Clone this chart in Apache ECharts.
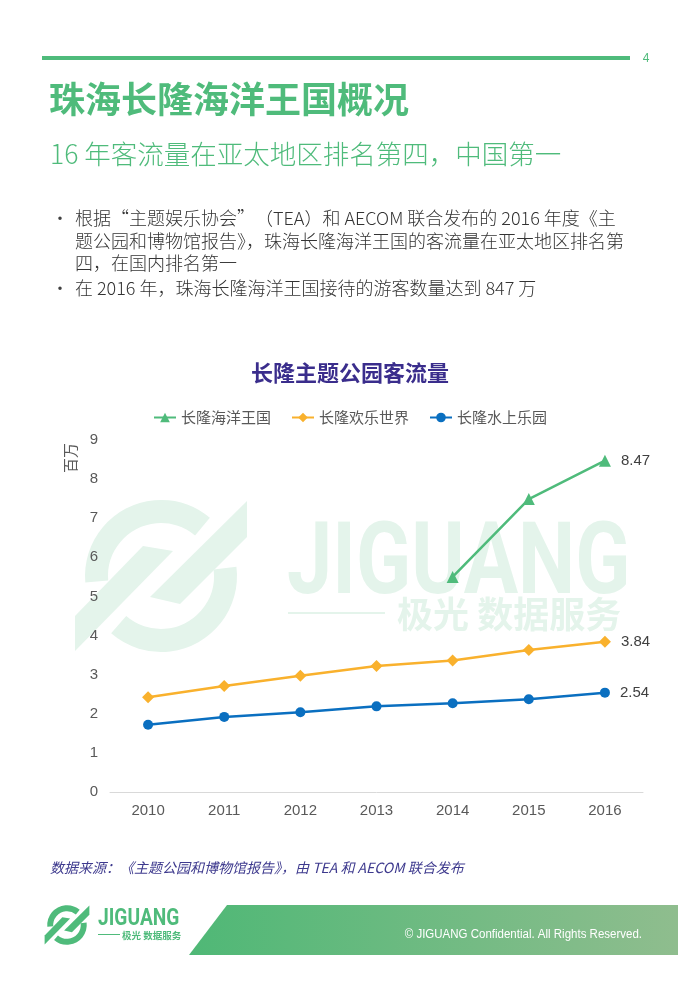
<!DOCTYPE html>
<html><head><meta charset="utf-8">
<script src="https://cdn.jsdelivr.net/npm/echarts@6/dist/echarts.min.js"></script>
<style>html,body{margin:0;padding:0;background:#fff}#c{width:700px;height:990px}</style>
</head><body><div id="c"></div>
<script>
const years = ['2010','2011','2012','2013','2014','2015','2016'];
const oceanKingdom = [null, null, null, null, 5.50, 7.49, 8.47];
const happyValley = [2.42, 2.71, 2.97, 3.22, 3.36, 3.63, 3.84];
const waterPark = [1.72, 1.92, 2.04, 2.19, 2.27, 2.37, 2.54];
const seriesNames = ['长隆海洋王国', '长隆欢乐世界', '长隆水上乐园'];
const yTicks = [0, 9, 1];

const GREEN = '#4fbb7b';
const CJK = '"Noto Sans CJK SC", sans-serif';
const LAT = '"Liberation Sans", "Noto Sans CJK SC", sans-serif';

function logo(x, y, s, color) {
  const d = Math.PI / 180;
  return {
    type: 'group', x: x, y: y, scaleX: s, scaleY: s, silent: true,
    children: [
      {type: 'sector', shape: {cx: 0, cy: 0, r0: 53, r: 76, startAngle: -185 * d, endAngle: -50 * d, clockwise: true}, style: {fill: color}},
      {type: 'sector', shape: {cx: 0, cy: 0, r0: 53, r: 76, startAngle: -7 * d, endAngle: 131 * d, clockwise: true}, style: {fill: color}},
      {type: 'polygon', shape: {points: [[-86, 40], [-18, -30], [12, -25], [-86, 75]]}, style: {fill: color}},
      {type: 'polygon', shape: {points: [[-11, 21], [86, -75], [86, -39], [19, 28]]}, style: {fill: color}}
    ]
  };
}

const chart = echarts.init(document.getElementById('c'), null, {renderer: 'canvas'});
const lblFmt = p => (p.dataIndex === years.length - 1 ? p.value.toFixed(2) : '');
const lbl = {show: true, position: 'right', distance: 10, formatter: lblFmt, color: '#404040', fontSize: 15, fontFamily: LAT};
const BODY = '300 18px ' + CJK;

chart.setOption({
  animation: false,
  backgroundColor: '#fff',
  graphic: [
    {type: 'rect', shape: {x: 42, y: 56, width: 588, height: 4}, style: {fill: GREEN}},
    {type: 'text', style: {text: '4', x: 646, y: 59, font: '12px ' + LAT, fill: GREEN, textAlign: 'center', textVerticalAlign: 'middle'}},
    {type: 'text', style: {text: '珠海长隆海洋王国概况', x: 49, y: 99, font: 'bold 36px ' + CJK, fill: GREEN, textVerticalAlign: 'middle'}},
    {type: 'text', style: {text: '16 年客流量在亚太地区排名第四，中国第一', x: 50, y: 154, font: '300 26.5px ' + CJK, fill: GREEN, textVerticalAlign: 'middle'}},
    {type: 'text', style: {text: '•', x: 52, y: 218, font: '16px ' + CJK, fill: '#404040', textVerticalAlign: 'middle'}},
    {type: 'text', style: {text: '根据“主题娱乐协会”（TEA）和 AECOM 联合发布的 2016 年度《主', x: 75, y: 218, font: BODY, fill: '#333333', textVerticalAlign: 'middle'}},
    {type: 'text', style: {text: '题公园和博物馆报告》，珠海长隆海洋王国的客流量在亚太地区排名第', x: 75, y: 241, font: BODY, fill: '#333333', textVerticalAlign: 'middle'}},
    {type: 'text', style: {text: '四，在国内排名第一', x: 75, y: 263, font: BODY, fill: '#333333', textVerticalAlign: 'middle'}},
    {type: 'text', style: {text: '•', x: 52, y: 288, font: '16px ' + CJK, fill: '#404040', textVerticalAlign: 'middle'}},
    {type: 'text', style: {text: '在 2016 年，珠海长隆海洋王国接待的游客数量达到 847 万', x: 75, y: 288, font: BODY, fill: '#333333', textVerticalAlign: 'middle'}},
    // watermark
    Object.assign(logo(161, 576, 1, '#e4f4eb'), {z: -10}),
    {type: 'text', z: -10, silent: true, x: 287, y: 568, scaleX: 0.81, style: {text: 'JIGUANG', x: 0, y: 0, font: 'bold 100px Roboto, ' + LAT, fill: '#e4f4eb', textVerticalAlign: 'middle'}},
    {type: 'rect', z: -10, silent: true, shape: {x: 288, y: 612, width: 97, height: 2}, style: {fill: '#e4f4eb'}},
    {type: 'text', z: -10, silent: true, style: {text: '极光 数据服务', x: 397, y: 614, font: 'bold 36px ' + CJK, fill: '#e4f4eb', textVerticalAlign: 'middle'}},
    // chart title
    {type: 'text', style: {text: '长隆主题公园客流量', x: 350, y: 373, font: 'bold 22px ' + CJK, fill: '#3a2d8c', textAlign: 'center', textVerticalAlign: 'middle'}},
    {type: 'text', rotation: Math.PI / 2, x: 70, y: 458, style: {text: '百万', x: 0, y: 0, font: '15px ' + CJK, fill: '#595959', textAlign: 'center', textVerticalAlign: 'middle'}},
    // source
    {type: 'text', style: {text: '数据来源：《主题公园和博物馆报告》，由 TEA 和 AECOM 联合发布', x: 50, y: 868, font: 'italic 14px ' + CJK, fill: '#3e3a8e', textVerticalAlign: 'middle'}},
    // footer
    logo(67, 925, 0.26, GREEN),
    {type: 'text', x: 98, y: 919, scaleX: 0.8, style: {text: 'JIGUANG', x: 0, y: 0, font: 'bold 24px Roboto, ' + LAT, fill: GREEN, textVerticalAlign: 'middle'}},
    {type: 'rect', shape: {x: 98, y: 934, width: 22, height: 1}, style: {fill: GREEN}},
    {type: 'text', style: {text: '极光 数据服务', x: 122, y: 935, font: 'bold 9.5px ' + CJK, fill: GREEN, textVerticalAlign: 'middle'}},
    {type: 'polygon', shape: {points: [[227, 905], [678, 905], [678, 955], [189, 955]]},
      style: {fill: new echarts.graphic.LinearGradient(0, 0, 1, 0, [{offset: 0, color: '#4fb876'}, {offset: 1, color: '#8fbd8e'}])}},
    {type: 'text', x: 642, y: 935, scaleX: 0.92, style: {text: '© JIGUANG Confidential. All Rights Reserved.', x: 0, y: 0, font: '12.5px ' + LAT, fill: '#ffffff', textAlign: 'right', textVerticalAlign: 'middle'}}
  ],
  legend: {
    top: 405, left: 'center', itemWidth: 22, itemHeight: 12, itemGap: 20,
    textStyle: {color: '#595959', fontSize: 15, fontFamily: CJK},
    data: seriesNames
  },
  grid: {left: 110, right: 57, top: 440, bottom: 198, containLabel: false},
  xAxis: {
    type: 'category', data: years, boundaryGap: true,
    axisLine: {lineStyle: {color: '#d9d9d9', width: 1}},
    axisTick: {show: false},
    axisLabel: {color: '#595959', fontSize: 15, fontFamily: LAT, margin: 11}
  },
  yAxis: {
    type: 'value', min: yTicks[0], max: yTicks[1], interval: yTicks[2],
    axisLine: {show: false}, axisTick: {show: false}, splitLine: {show: false},
    axisLabel: {color: '#595959', fontSize: 15, fontFamily: LAT, margin: 12}
  },
  series: [
    {name: seriesNames[0], type: 'line', data: oceanKingdom, symbol: 'triangle', symbolSize: 12,
      itemStyle: {color: GREEN}, lineStyle: {width: 2.5, color: GREEN}, label: lbl},
    {name: seriesNames[1], type: 'line', data: happyValley, symbol: 'diamond', symbolSize: 12,
      itemStyle: {color: '#f9b12d'}, lineStyle: {width: 2.5, color: '#f9b12d'}, label: lbl},
    {name: seriesNames[2], type: 'line', data: waterPark, symbol: 'circle', symbolSize: 10,
      itemStyle: {color: '#0a6fc0'}, lineStyle: {width: 2.5, color: '#0a6fc0'}, label: lbl}
  ]
});
</script></body></html>
